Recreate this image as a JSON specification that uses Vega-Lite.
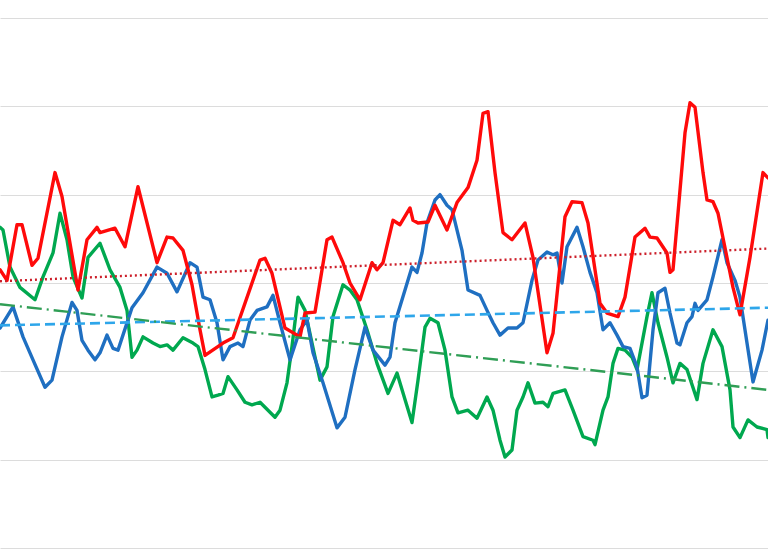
{
  "$schema": "https://vega.github.io/schema/vega-lite/v6.json",
  "width": 768,
  "height": 530,
  "autosize": {"type": "none"},
  "padding": {"top": 18, "left": 0, "right": 0, "bottom": 12},
  "background": "white",
  "config": {"view": {"stroke": null}},
  "datasets": {
    "red": [
      {"t":0,"v":3.15},{"t":1.75,"v":3.03},{"t":4.25,"v":3.66},{"t":5.5,"v":3.66},{"t":8,"v":3.20},{"t":9.5,"v":3.28},{"t":13.75,"v":4.25},{"t":15.5,"v":3.98},{"t":19.5,"v":2.92},{"t":21.75,"v":3.49},{"t":24.25,"v":3.63},{"t":25,"v":3.57},{"t":28.75,"v":3.62},{"t":31.25,"v":3.41},{"t":34.5,"v":4.09},{"t":39.25,"v":3.23},{"t":41.75,"v":3.52},{"t":43.25,"v":3.51},{"t":45.75,"v":3.37},{"t":48,"v":2.98},{"t":50,"v":2.47},{"t":51.25,"v":2.18},{"t":55.75,"v":2.32},{"t":58.25,"v":2.38},{"t":65,"v":3.26},{"t":66.25,"v":3.28},{"t":68,"v":3.11},{"t":71.25,"v":2.49},{"t":75,"v":2.39},{"t":76.25,"v":2.66},{"t":78.75,"v":2.67},{"t":81.75,"v":3.49},{"t":83,"v":3.52},{"t":85.75,"v":3.23},{"t":87.5,"v":3.00},{"t":90,"v":2.81},{"t":93,"v":3.23},{"t":94.25,"v":3.15},{"t":95.75,"v":3.23},{"t":98.25,"v":3.71},{"t":100,"v":3.66},{"t":102.5,"v":3.85},{"t":103.25,"v":3.71},{"t":104.5,"v":3.68},{"t":107,"v":3.69},{"t":108.75,"v":3.88},{"t":111.75,"v":3.60},{"t":114.25,"v":3.91},{"t":117,"v":4.08},{"t":119.25,"v":4.39},{"t":120.75,"v":4.92},{"t":122,"v":4.94},{"t":123.75,"v":4.25},{"t":125.75,"v":3.57},{"t":128,"v":3.49},{"t":131.25,"v":3.68},{"t":133.25,"v":3.29},{"t":136.75,"v":2.21},{"t":138.25,"v":2.43},{"t":141.25,"v":3.75},{"t":143,"v":3.92},{"t":145.5,"v":3.91},{"t":147,"v":3.68},{"t":150,"v":2.77},{"t":151.75,"v":2.66},{"t":154.5,"v":2.62},{"t":156.25,"v":2.84},{"t":158.75,"v":3.52},{"t":161.25,"v":3.62},{"t":162.5,"v":3.52},{"t":164.25,"v":3.51},{"t":166.75,"v":3.34},{"t":167.5,"v":3.12},{"t":168.25,"v":3.15},{"t":169.5,"v":3.79},{"t":171.25,"v":4.70},{"t":172.5,"v":5.04},{"t":173.75,"v":4.99},{"t":175.75,"v":4.25},{"t":176.75,"v":3.94},{"t":178.25,"v":3.92},{"t":179.5,"v":3.79},{"t":183.25,"v":2.95},{"t":185,"v":2.64},{"t":187.5,"v":3.29},{"t":190.75,"v":4.25},{"t":192,"v":4.19}
    ],
    "blue": [
      {"t":0,"v":2.49},{"t":3.25,"v":2.73},{"t":5.75,"v":2.39},{"t":8.25,"v":2.13},{"t":11.25,"v":1.82},{"t":13,"v":1.90},{"t":15.5,"v":2.39},{"t":18,"v":2.78},{"t":19.25,"v":2.69},{"t":20.5,"v":2.35},{"t":22,"v":2.24},{"t":23.75,"v":2.13},{"t":25,"v":2.21},{"t":26.75,"v":2.41},{"t":28.25,"v":2.26},{"t":29.5,"v":2.24},{"t":33,"v":2.72},{"t":35.75,"v":2.89},{"t":39.25,"v":3.18},{"t":41.75,"v":3.11},{"t":44.25,"v":2.90},{"t":47.5,"v":3.23},{"t":49.25,"v":3.18},{"t":50.75,"v":2.84},{"t":52.5,"v":2.81},{"t":54.25,"v":2.55},{"t":55.75,"v":2.13},{"t":57.5,"v":2.28},{"t":59.5,"v":2.32},{"t":60.75,"v":2.28},{"t":62.5,"v":2.58},{"t":64.25,"v":2.69},{"t":66.75,"v":2.73},{"t":68.25,"v":2.86},{"t":70,"v":2.55},{"t":72.5,"v":2.13},{"t":75,"v":2.47},{"t":76.75,"v":2.58},{"t":78.25,"v":2.21},{"t":80.75,"v":1.87},{"t":84.25,"v":1.36},{"t":86.25,"v":1.48},{"t":88.75,"v":2.02},{"t":91.25,"v":2.50},{"t":93.25,"v":2.24},{"t":96.25,"v":2.07},{"t":97.5,"v":2.16},{"t":98.75,"v":2.55},{"t":101.25,"v":2.92},{"t":103,"v":3.18},{"t":104.25,"v":3.12},{"t":105.5,"v":3.34},{"t":106.75,"v":3.68},{"t":108.75,"v":3.94},{"t":110,"v":4.00},{"t":111.75,"v":3.88},{"t":113,"v":3.83},{"t":115.5,"v":3.37},{"t":117,"v":2.92},{"t":120,"v":2.86},{"t":121.75,"v":2.69},{"t":123.25,"v":2.55},{"t":125,"v":2.41},{"t":127,"v":2.49},{"t":129.25,"v":2.49},{"t":130.75,"v":2.55},{"t":133,"v":3.03},{"t":134.5,"v":3.26},{"t":136.75,"v":3.35},{"t":138.25,"v":3.32},{"t":139.25,"v":3.34},{"t":140.5,"v":3.00},{"t":141.75,"v":3.41},{"t":144.25,"v":3.63},{"t":145.75,"v":3.41},{"t":147.5,"v":3.12},{"t":149.25,"v":2.89},{"t":150.75,"v":2.47},{"t":152.5,"v":2.55},{"t":154.25,"v":2.41},{"t":155.75,"v":2.28},{"t":157.5,"v":2.26},{"t":159.25,"v":2.05},{"t":160.5,"v":1.70},{"t":161.75,"v":1.73},{"t":163.25,"v":2.47},{"t":164.5,"v":2.89},{"t":166.25,"v":2.94},{"t":167.5,"v":2.66},{"t":169.25,"v":2.32},{"t":170,"v":2.30},{"t":171.75,"v":2.55},{"t":173,"v":2.62},{"t":173.75,"v":2.77},{"t":174.5,"v":2.69},{"t":176.75,"v":2.81},{"t":178.25,"v":3.07},{"t":180.5,"v":3.49},{"t":181.75,"v":3.23},{"t":183.75,"v":3.03},{"t":185,"v":2.84},{"t":186.75,"v":2.32},{"t":188.25,"v":1.88},{"t":190.5,"v":2.24},{"t":192,"v":2.58}
    ],
    "green": [
      {"t":0,"v":3.63},{"t":0.75,"v":3.60},{"t":2.5,"v":3.18},{"t":5,"v":2.95},{"t":8.75,"v":2.81},{"t":10.75,"v":3.07},{"t":13.25,"v":3.34},{"t":15,"v":3.79},{"t":16.75,"v":3.49},{"t":18.25,"v":3.07},{"t":20.5,"v":2.83},{"t":22,"v":3.29},{"t":25,"v":3.45},{"t":27.5,"v":3.15},{"t":30,"v":2.95},{"t":31.75,"v":2.69},{"t":33,"v":2.16},{"t":34.25,"v":2.24},{"t":35.75,"v":2.39},{"t":38.25,"v":2.32},{"t":40,"v":2.28},{"t":41.75,"v":2.30},{"t":43.25,"v":2.24},{"t":45.75,"v":2.38},{"t":48.25,"v":2.32},{"t":49.5,"v":2.28},{"t":51.25,"v":2.02},{"t":53,"v":1.71},{"t":54.5,"v":1.73},{"t":55.75,"v":1.75},{"t":57,"v":1.94},{"t":59.25,"v":1.79},{"t":61.25,"v":1.65},{"t":63,"v":1.62},{"t":65,"v":1.65},{"t":67,"v":1.56},{"t":68.75,"v":1.48},{"t":70,"v":1.56},{"t":71.75,"v":1.87},{"t":73,"v":2.28},{"t":74.5,"v":2.84},{"t":76.25,"v":2.69},{"t":78,"v":2.32},{"t":80,"v":1.90},{"t":81.75,"v":2.05},{"t":83.25,"v":2.62},{"t":85.75,"v":2.98},{"t":87.5,"v":2.92},{"t":89.25,"v":2.81},{"t":91.75,"v":2.47},{"t":94.25,"v":2.09},{"t":97,"v":1.75},{"t":99.25,"v":1.98},{"t":101.25,"v":1.68},{"t":103,"v":1.42},{"t":104.5,"v":1.90},{"t":106.25,"v":2.50},{"t":107.5,"v":2.60},{"t":109.5,"v":2.55},{"t":111.25,"v":2.24},{"t":113,"v":1.71},{"t":114.5,"v":1.53},{"t":117,"v":1.56},{"t":119.25,"v":1.47},{"t":121.75,"v":1.71},{"t":123.25,"v":1.56},{"t":125,"v":1.22},{"t":126.25,"v":1.03},{"t":128,"v":1.11},{"t":129.25,"v":1.56},{"t":130.75,"v":1.71},{"t":132,"v":1.87},{"t":133.75,"v":1.64},{"t":135.75,"v":1.65},{"t":137,"v":1.60},{"t":138.25,"v":1.75},{"t":141.25,"v":1.79},{"t":143.25,"v":1.56},{"t":145.75,"v":1.26},{"t":148.25,"v":1.22},{"t":148.75,"v":1.17},{"t":150.75,"v":1.56},{"t":152,"v":1.71},{"t":153.25,"v":2.09},{"t":154.5,"v":2.26},{"t":156.25,"v":2.24},{"t":158,"v":2.16},{"t":159.25,"v":2.02},{"t":161.75,"v":2.62},{"t":163,"v":2.89},{"t":164.5,"v":2.55},{"t":166.75,"v":2.16},{"t":168.25,"v":1.87},{"t":170,"v":2.09},{"t":171.75,"v":2.02},{"t":174.25,"v":1.68},{"t":175.75,"v":2.09},{"t":178.25,"v":2.47},{"t":180.5,"v":2.28},{"t":182.5,"v":1.79},{"t":183.25,"v":1.37},{"t":185,"v":1.25},{"t":187,"v":1.45},{"t":189.25,"v":1.37},{"t":191.75,"v":1.34},{"t":192,"v":1.25}
    ],
    "redTrend": [{"t":0,"v":3.02},{"t":192,"v":3.39}],
    "blueTrend": [{"t":0,"v":2.52},{"t":192,"v":2.72}],
    "greenTrend": [{"t":0,"v":2.76},{"t":192,"v":1.79}]
  },
  "encoding": {
    "x": {"field": "t", "type": "quantitative", "scale": {"domain": [0, 192], "nice": false, "zero": false}, "axis": null},
    "y": {"field": "v", "type": "quantitative", "scale": {"domain": [0, 6], "nice": false}, "axis": {"values": [0,1,2,3,4,5,6], "labels": false, "ticks": false, "domain": false, "title": null, "grid": true, "gridColor": "#dcdcdc", "gridWidth": 1}}
  },
  "layer": [
    {"data": {"name": "green"}, "mark": {"type": "line", "color": "#00a84f", "strokeWidth": 3.4, "strokeJoin": "round", "strokeCap": "round", "clip": true}},
    {"data": {"name": "blue"}, "mark": {"type": "line", "color": "#1f6fc1", "strokeWidth": 3.4, "strokeJoin": "round", "strokeCap": "round", "clip": true}},
    {"data": {"name": "red"}, "mark": {"type": "line", "color": "#ff0a0a", "strokeWidth": 3.4, "strokeJoin": "round", "strokeCap": "round", "clip": true}},
    {"data": {"name": "redTrend"}, "mark": {"type": "line", "color": "#cc1f2a", "strokeWidth": 2.4, "strokeDash": [2, 3], "clip": true}},
    {"data": {"name": "blueTrend"}, "mark": {"type": "line", "color": "#2ea6ea", "strokeWidth": 2.6, "strokeDash": [10, 5], "clip": true}},
    {"data": {"name": "greenTrend"}, "mark": {"type": "line", "color": "#2f9e55", "strokeWidth": 2.4, "strokeDash": [15, 5, 2, 5], "clip": true}}
  ]
}
